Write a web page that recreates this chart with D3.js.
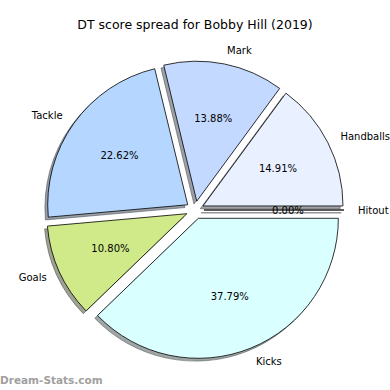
<!DOCTYPE html>
<html>
<head>
<meta charset="utf-8">
<script src="https://cdn.jsdelivr.net/npm/d3@7"></script>
<style>
html,body{margin:0;padding:0;background:#fff;}
svg{display:block;font-family:"DejaVu Sans",sans-serif;}
</style>
</head>
<body>
<div id="chart"></div>
<script>
const categories = ["Handballs", "Mark", "Tackle", "Goals", "Kicks", "Hitout"];
const values = [14.91, 13.88, 22.62, 10.80, 37.79, 0.00];
const colors = ["#e9f0ff", "#c4d9ff", "#b4d6ff", "#d0ea8a", "#d9ffff", "#eaf0ff"];
const title = "DT score spread for Bobby Hill (2019)";

const W = 390, H = 390;
const cx = 195, cy = 210, R = 140;
const explodeFrac = 0.064;
const off = explodeFrac * R;
const shadowOff = 0.02 * R;

const svg = d3.select("#chart").append("svg").attr("width", W).attr("height", H);

svg.append("text").attr("x", W / 2).attr("y", 29).attr("text-anchor", "middle")
  .attr("font-size", "12.5px").attr("fill", "#000").text(title);

const data = categories.map((c, i) => ({ cat: c, value: values[i], color: colors[i] }));
const total = d3.sum(values);

const pie = d3.pie().sort(null).value(d => d.value)
  .startAngle(Math.PI / 2).endAngle(Math.PI / 2 - 2 * Math.PI);
const arcs = pie(data);
const arc = d3.arc().innerRadius(0).outerRadius(R);

function dir(d) {
  const a = (d.startAngle + d.endAngle) / 2;
  return [Math.sin(a), -Math.cos(a)];
}

const shade = c => {
  const r = d3.rgb(c);
  return d3.rgb(r.r * 0.3, r.g * 0.3, r.b * 0.3).toString();
};

const g = svg.append("g").attr("transform", `translate(${cx},${cy})`);

// shadows (below all wedges)
g.selectAll("path.shadow").data(arcs).join("path").attr("class", "shadow")
  .attr("d", arc)
  .attr("transform", d => { const [dx, dy] = dir(d); return `translate(${dx * off - shadowOff},${dy * off + shadowOff})`; })
  .attr("fill", d => shade(d.data.color)).attr("fill-opacity", 0.5)
  .attr("stroke", d => shade(d.data.color)).attr("stroke-opacity", 0.5).attr("stroke-width", 1);

// wedges
g.selectAll("path.wedge").data(arcs).join("path").attr("class", "wedge")
  .attr("d", arc)
  .attr("transform", d => { const [dx, dy] = dir(d); return `translate(${dx * off},${dy * off})`; })
  .attr("fill", d => d.data.color).attr("stroke", "#000").attr("stroke-width", 0.8)
  .attr("stroke-linejoin", "round");

// labels
g.selectAll("text.lab").data(arcs).join("text").attr("class", "lab")
  .each(function (d) {
    const [dx, dy] = dir(d);
    const x = dx * off + dx * R * 1.1, y = dy * off + dy * R * 1.1;
    d3.select(this).attr("x", x).attr("y", y)
      .attr("text-anchor", dx * R * 1.1 > 0 ? "start" : "end");
  })
  .attr("dy", "0.35em").attr("font-size", "10px").attr("fill", "#000")
  .text(d => d.data.cat);

// percentages
g.selectAll("text.pct").data(arcs).join("text").attr("class", "pct")
  .attr("x", d => { const [dx] = dir(d); return dx * off + dx * R * 0.6; })
  .attr("y", d => { const [, dy] = dir(d); return dy * off + dy * R * 0.6; })
  .attr("dy", "0.35em").attr("text-anchor", "middle").attr("font-size", "10px").attr("fill", "#000")
  .text(d => (d.data.value / total * 100).toFixed(2) + "%");

svg.append("text").attr("x", 0).attr("y", 384).attr("font-size", "10.5px").attr("font-weight", "bold")
  .attr("fill", "#a0a0a0").text("Dream-Stats.com");
</script>
</body>
</html>
